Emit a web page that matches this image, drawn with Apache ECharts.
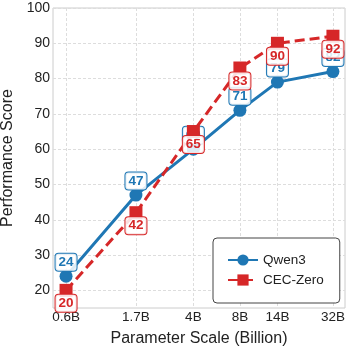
<!DOCTYPE html>
<html lang="en">
<head>
    <meta charset="UTF-8">
    <title>Parameter Scale Chart</title>
    <script src="https://cdn.jsdelivr.net/npm/echarts@6/dist/echarts.min.js"></script>
    <style>
        body { margin: 0; background: #fff; }
    </style>
</head>
<body>
    <div id="main" style="width: 349px;height:349px;"></div>
    <script>
        // model sizes (billions) and scores
        const sizes = [0.6, 1.7, 4, 8, 14, 32];
        const sizeLabels = ['0.6B', '1.7B', '4B', '8B', '14B', '32B'];
        const yTicks = [20, 30, 40, 50, 60, 70, 80, 90, 100];
        const qwen3 = [24, 47, 60, 71, 79, 82];
        const cecZero = [20, 42, 65, 83, 90, 92];

        const chart = echarts.init(document.getElementById('main'));
        const FONT = 'Liberation Sans';

        function pairs(vals) {
            return sizes.map((s, i) => [s, vals[i]]);
        }

        function labelStyle(color, dy) {
            return {
                show: true,
                position: 'inside',
                offset: [0, dy],
                color: color,
                fontWeight: 'bold',
                fontSize: 13.5,
                fontFamily: FONT,
                backgroundColor: 'rgba(255,255,255,0.85)',
                borderColor: color,
                borderWidth: 1,
                borderRadius: 3,
                padding: [2, 3, 1, 3]
            };
        }

        const gridLine = { color: '#dddddd', type: [3, 2], width: 1 };

        const option = {
            animation: false,
            textStyle: { fontFamily: FONT },
            grid: {
                left: 53, right: 4, top: 8, bottom: 41,
                outerBoundsMode: 'none',
                containLabel: false,
                show: true, borderColor: '#cccccc', borderWidth: 1
            },
            legend: {
                left: 213, top: 238,
                orient: 'vertical',
                padding: [15, 16, 16, 14],
                itemGap: 6,
                itemWidth: 30, itemHeight: 14,
                borderColor: '#444', borderWidth: 1, borderRadius: 4,
                backgroundColor: '#fff',
                textStyle: { fontSize: 13.5, color: '#222', fontFamily: FONT },
                data: ['Qwen3', 'CEC-Zero']
            },
            xAxis: {
                type: 'log',
                logBase: 10,
                min: 0.494,
                max: 38.3,
                name: 'Parameter Scale (Billion)',
                nameLocation: 'middle',
                nameGap: 23,
                nameTextStyle: { fontSize: 16, color: '#222' },
                axisLine: { show: false },
                axisTick: { show: false, customValues: sizes },
                axisLabel: {
                    customValues: sizes,
                    fontSize: 13.5, color: '#222', margin: 2,
                    formatter: (v) => sizeLabels[sizes.indexOf(v)] || ''
                },
                splitLine: { show: true, customValues: sizes, lineStyle: gridLine }
            },
            yAxis: {
                type: 'value',
                min: 15, max: 100,
                name: 'Performance Score',
                nameLocation: 'middle',
                nameGap: 29,
                nameTextStyle: { fontSize: 16, color: '#222' },
                axisLine: { show: false },
                axisTick: { show: false, customValues: yTicks },
                axisLabel: {
                    customValues: yTicks,
                    fontSize: 14, color: '#222', margin: 3
                },
                splitLine: { show: true, customValues: yTicks, lineStyle: gridLine }
            },
            series: [
                {
                    name: 'Qwen3',
                    type: 'line',
                    data: pairs(qwen3),
                    symbol: 'circle',
                    symbolSize: 13,
                    color: '#1f77b4',
                    lineStyle: { width: 3 },
                    label: labelStyle('#1f77b4', -14),
                    z: 2
                },
                {
                    name: 'CEC-Zero',
                    type: 'line',
                    data: pairs(cecZero),
                    symbol: 'rect',
                    symbolSize: 13,
                    color: '#d62728',
                    lineStyle: { width: 3, type: [10, 5] },
                    label: labelStyle('#d62728', 13),
                    z: 3
                }
            ]
        };

        chart.setOption(option);
    </script>
</body>
</html>
